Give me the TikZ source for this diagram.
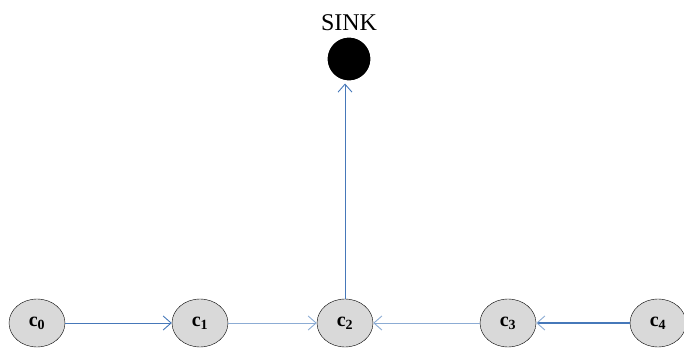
\documentclass[tikz,border=0pt]{standalone}
\usepackage{fontspec}
\setmainfont{Liberation Serif}
\usetikzlibrary{shapes.geometric,arrows.meta}

\definecolor{linkblue}{RGB}{70,120,185}
\definecolor{paleblue}{RGB}{140,172,212}
\definecolor{cellgray}{RGB}{217,217,217}

\tikzset{
  cell/.style={ellipse, draw=black, thin, fill=cellgray, minimum width=56pt,
    minimum height=48pt, inner sep=0pt, font=\fontsize{20}{24}\selectfont\bfseries},
  link/.style={-{Straight Barb[length=8pt,width=14pt,line width=0.9pt]},
    linkblue, line width=1pt},
}

\begin{document}
\begin{tikzpicture}[x=1pt,y=1pt]
  \useasboundingbox (0,0) rectangle (684,348);

  % cluster heads along the chain
  \node[cell] (c0) at (37,25) {c\textsubscript{0}};
  \node[cell] (c1) at (200,25) {c\textsubscript{1}};
  \node[cell] (c2) at (345,25) {c\textsubscript{2}};
  \node[cell] (c3) at (508,25) {c\textsubscript{3}};
  \node[cell] (c4) at (658,25) {c\textsubscript{4}};

  % sink
  \node[circle, fill=black, draw=white, line width=3pt, minimum size=46pt,
        inner sep=0pt] (sink) at (349,289) {};
  \node[font=\fontsize{24}{28}\selectfont] (sinktext) at (349,325) {SINK};

  % links
  \draw[link] (c0) -- (c1);
  \draw[link, paleblue] (c1) -- (c2);
  \draw[link, paleblue] (c3) -- (c2);
  \draw[link, line width=2.5pt,
        -{Straight Barb[length=8pt,width=14pt,line width=0.9pt,color=paleblue]}]
        (c4) -- (c3);
  \draw[link] (c2) -- (c2 |- sink.south);
\end{tikzpicture}
\end{document}
